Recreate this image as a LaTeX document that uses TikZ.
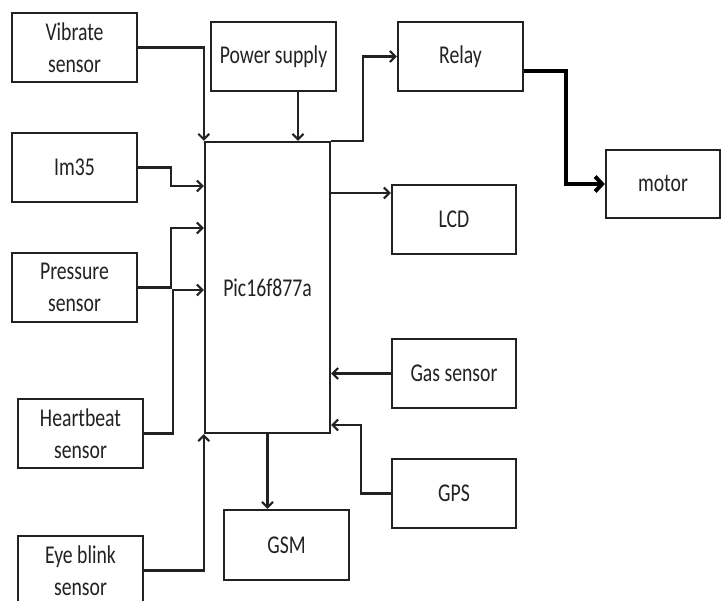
\documentclass[tikz,border=0pt]{standalone}
\usepackage{fontspec}
\setmainfont{Carlito}[FakeStretch=0.77]
\usetikzlibrary{arrows.meta}
\definecolor{ink}{HTML}{222222}
\begin{document}
\begin{tikzpicture}[x=1pt,y=-1pt,
  blk/.style={draw=ink,line width=2.3pt,minimum width=125pt,minimum height=69pt,
    inner sep=0pt,align=center,font=\fontsize{25.6}{32}\selectfont,text=ink},
  arr/.style={draw=ink,line width=2.1pt,-{Straight Barb[length=5.5pt,width=11pt,line width=2.1pt]}},
  thickarr/.style={draw=black,line width=4pt,-{Straight Barb[length=7pt,width=15pt,line width=4pt]}}]
\useasboundingbox (0,0) rectangle (721,601);
\fill[white] (0,0) rectangle (721,601);
% blocks
\node[blk] (vib) at (74.5,47.5) {Vibrate\\sensor};
\node[blk] (pow) at (273.5,56.5) {Power supply};
\node[blk,minimum height=291pt] (pic) at (267.5,287.5) {Pic16f877a};
\node[blk] (im35) at (74.5,167.5) {Im35};
\node[blk] (pres) at (74.5,287.5) {Pressure\\sensor};
\node[blk] (heart) at (80.5,433.5) {Heartbeat\\sensor};
\node[blk] (eye) at (80.5,570.5) {Eye blink\\sensor};
\node[blk,minimum height=70pt] (gsm) at (286.5,545) {GSM};
\node[blk] (relay) at (460.5,56.5) {Relay};
\node[blk,minimum width=114pt,minimum height=68pt] (motor) at (663,184) {motor};
\node[blk,minimum width=124pt] (lcd) at (454,219.5) {LCD};
\node[blk,minimum width=124pt] (gas) at (454,373.5) {Gas sensor};
\node[blk,minimum width=124pt] (gps) at (454,493.5) {GPS};
% connectors
\draw[arr] (vib.east) -| (pic.north west);
\draw[arr] ([xshift=24.5pt]pow.south) -- ([xshift=24.5pt]pow.south |- pic.north);
\draw[arr] (im35.east) -| (171,186) -- (pic.west |- 0,186);
\draw[arr] (pres.east) -| (171,228) -- (pic.west |- 0,228);
\draw[arr] (heart.east) -| (173,290) -- (pic.west |- 0,290);
\draw[arr] (eye.east) -| (pic.south west);
\draw[arr] (pic.south) -- (pic.south |- gsm.north);
\draw[arr] (pic.north east) -| (363,56.5) -- (relay.west);
\draw[thickarr] ([yshift=-14.5pt]relay.east) -| (566,184) -- (motor.west);
\draw[arr] (pic.east |- 0,193) -- (lcd.west |- 0,193);
\draw[arr] (gas.west) -- (pic.east |- gas.west);
\draw[arr] (gps.west) -| (361,425) -- (pic.east |- 0,425);
\end{tikzpicture}
\end{document}
